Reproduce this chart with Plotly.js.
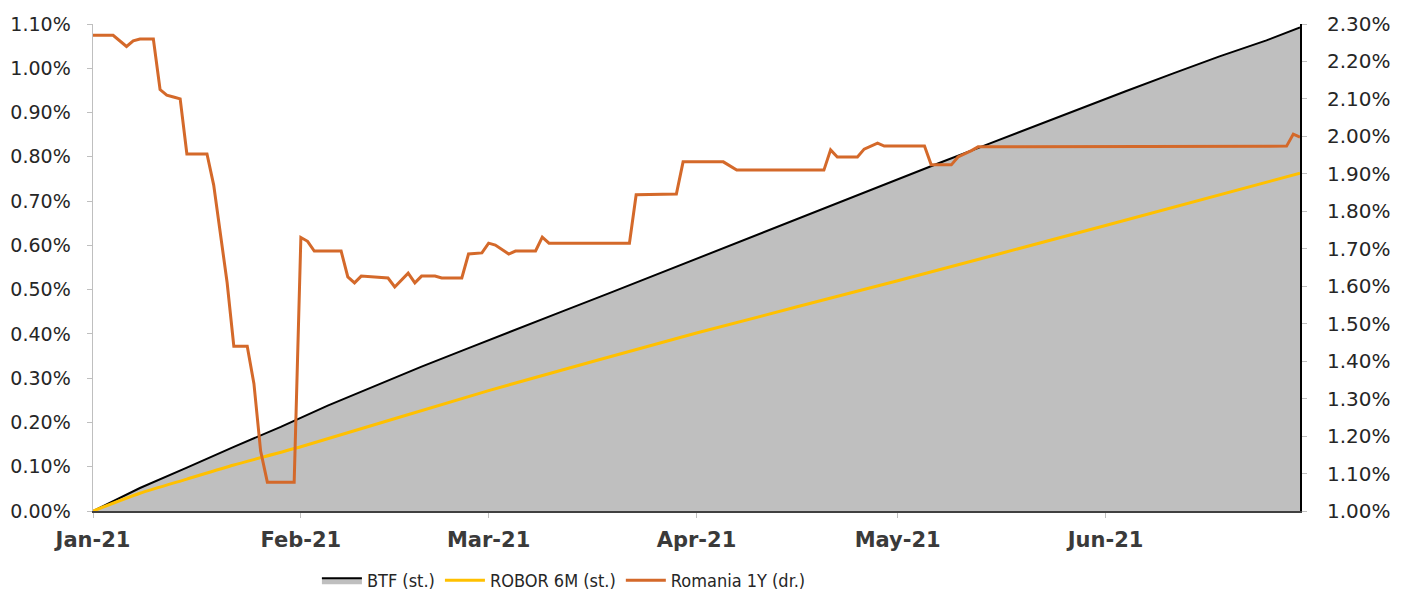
<!DOCTYPE html>
<html>
<head>
<meta charset="utf-8">
<script src="https://cdn.plot.ly/plotly-3.0.1.min.js"></script>
<style>
  html, body { margin: 0; padding: 0; background: #ffffff; }
  #chart { width: 1405px; height: 598px; }
</style>
</head>
<body>
<div id="chart"></div>
<script>
// ---- Data (values in %) ----
const btfDates = ['2021-01-01','2021-01-08','2021-01-15','2021-01-22','2021-01-29','2021-02-05','2021-02-12','2021-02-19','2021-02-26','2021-03-05','2021-03-12','2021-03-19','2021-03-26','2021-04-02','2021-04-09','2021-04-16','2021-04-23','2021-04-30','2021-05-07','2021-05-14','2021-05-21','2021-05-28','2021-06-04','2021-06-11','2021-06-18','2021-06-25','2021-06-30'];
const btfValues = [0.000,0.052,0.098,0.145,0.190,0.238,0.282,0.326,0.368,0.410,0.451,0.492,0.534,0.576,0.617,0.659,0.701,0.744,0.785,0.826,0.867,0.908,0.948,0.988,1.027,1.063,1.092];

const roborDates = ['2021-01-01','2021-01-08','2021-01-15','2021-01-22','2021-02-01','2021-03-01','2021-04-01','2021-05-01','2021-06-01','2021-06-30'];
const roborValues = [0.000,0.040,0.072,0.104,0.145,0.272,0.402,0.520,0.645,0.763];

const roDates = ['2021-01-01','2021-01-04','2021-01-06','2021-01-07','2021-01-08','2021-01-10','2021-01-11','2021-01-12','2021-01-13','2021-01-14','2021-01-15','2021-01-18','2021-01-19','2021-01-20','2021-01-21','2021-01-22','2021-01-24','2021-01-25','2021-01-26','2021-01-27','2021-01-31','2021-02-01','2021-02-02','2021-02-03','2021-02-07','2021-02-08','2021-02-09','2021-02-10','2021-02-14','2021-02-15','2021-02-16','2021-02-17','2021-02-18','2021-02-19','2021-02-21','2021-02-22','2021-02-25','2021-02-26','2021-02-28','2021-03-01','2021-03-02','2021-03-03','2021-03-04','2021-03-05','2021-03-08','2021-03-09','2021-03-10','2021-03-22','2021-03-23','2021-03-29','2021-03-30','2021-04-05','2021-04-06','2021-04-07','2021-04-20','2021-04-21','2021-04-22','2021-04-25','2021-04-26','2021-04-27','2021-04-28','2021-04-29','2021-05-05','2021-05-06','2021-05-09','2021-05-10','2021-05-11','2021-05-12','2021-05-13','2021-06-28','2021-06-29','2021-06-30'];
const roValues = [2.270,2.270,2.240,2.255,2.260,2.260,2.125,2.110,2.105,2.100,1.953,1.953,1.870,1.740,1.610,1.440,1.440,1.340,1.160,1.077,1.077,1.730,1.720,1.694,1.694,1.625,1.609,1.627,1.622,1.598,1.617,1.635,1.609,1.627,1.627,1.622,1.622,1.686,1.689,1.715,1.710,1.698,1.686,1.694,1.694,1.731,1.715,1.715,1.844,1.846,1.932,1.932,1.920,1.910,1.910,1.964,1.945,1.945,1.966,1.975,1.982,1.974,1.974,1.924,1.924,1.945,1.953,1.962,1.972,1.974,2.006,1.998];

const monthTicks = ['2021-01-01','2021-02-01','2021-03-01','2021-04-01','2021-05-01','2021-06-01'];
const seriesNames = ['BTF (st.)', 'ROBOR 6M (st.)', 'Romania 1Y (dr.)'];

const SANS = '"DejaVu Sans", "Verdana", sans-serif';
const COND = '"DejaVu Sans Condensed", "Liberation Sans Narrow", "DejaVu Sans", sans-serif';

const traces = [
  {
    x: btfDates, y: btfValues, name: seriesNames[0], type: 'scatter', mode: 'lines',
    fill: 'tozeroy', fillcolor: '#bfbfbf',
    line: { color: '#000000', width: 2 }, yaxis: 'y'
  },
  {
    x: roborDates, y: roborValues, name: seriesNames[1], type: 'scatter', mode: 'lines',
    line: { color: '#FFC000', width: 3, shape: 'spline', smoothing: 0.6 }, yaxis: 'y'
  },
  {
    x: roDates, y: roValues, name: seriesNames[2], type: 'scatter', mode: 'lines',
    line: { color: '#D4692A', width: 3 }, yaxis: 'y2'
  }
];

const layout = {
  width: 1405, height: 598,
  margin: { l: 93, r: 105, t: 24, b: 87, autoexpand: false },
  paper_bgcolor: '#ffffff', plot_bgcolor: '#ffffff',
  font: { family: SANS, color: '#262626', size: 16 },
  showlegend: true,
  legend: {
    orientation: 'h', x: 0.1855, xanchor: 'left', y: -0.143, yanchor: 'middle',
    itemwidth: 40, traceorder: 'normal',
    font: { family: COND, size: 18, color: '#262626' }, bgcolor: 'rgba(0,0,0,0)'
  },
  xaxis: {
    type: 'date', range: ['2021-01-01', '2021-06-30'],
    tickvals: monthTicks, tickformat: '%b-%y',
    showgrid: false, zeroline: false, automargin: false,
    showline: true, linecolor: '#404040', linewidth: 1.5,
    ticks: 'outside', ticklen: 5, tickcolor: '#bfbfbf', ticklabelstandoff: 4,
    tickfont: { family: SANS, size: 21, color: '#3a3a3a', weight: 'bold' }
  },
  yaxis: {
    range: [0, 1.1], dtick: 0.1, tick0: 0, tickformat: '.2f', ticksuffix: '%',
    showgrid: false, zeroline: false, automargin: false,
    showline: true, linecolor: '#bfbfbf', linewidth: 1.5,
    ticks: 'outside', ticklen: 5, tickcolor: '#bfbfbf', ticklabelstandoff: 12,
    tickfont: { family: SANS, size: 19, color: '#262626' }
  },
  yaxis2: {
    range: [1.0, 2.3], dtick: 0.1, tick0: 1.0, tickformat: '.2f', ticksuffix: '%',
    overlaying: 'y', side: 'right',
    showgrid: false, zeroline: false, automargin: false,
    showline: true, linecolor: '#000000', linewidth: 2,
    ticks: 'outside', ticklen: 5, tickcolor: '#bfbfbf', ticklabelstandoff: 16,
    tickfont: { family: SANS, size: 20, color: '#262626' }
  }
};

Plotly.newPlot('chart', traces, layout, { displayModeBar: false, staticPlot: true });
</script>
</body>
</html>
